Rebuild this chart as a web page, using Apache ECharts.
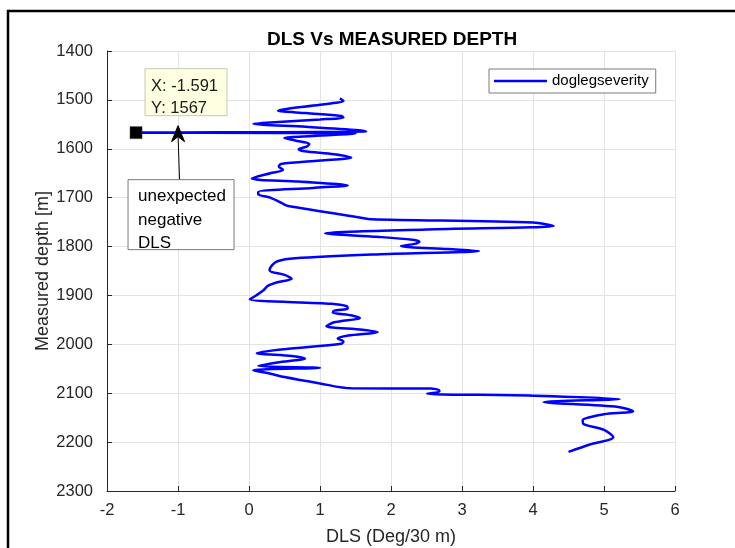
<!DOCTYPE html>
<html>
<head>
<meta charset="utf-8">
<script src="https://cdn.jsdelivr.net/npm/echarts@6/dist/echarts.min.js"></script>
<style>
html,body{margin:0;padding:0;background:#fff;}
#c{width:735px;height:548px;}
</style>
</head>
<body>
<div id="c"></div>
<script>
// Measured depth (m) and dogleg severity (deg/30 m)
const depthVals = [1497,1502,1510,1518,1522,1527,1533,1536,1540,1546,1549,1555,1562,1564.5,1567,1569,1574,1578,1583,1590,1595,1601,1605,1611,1618,1624,1631,1636,1643,1650,1661,1667,1675,1680,1688,1693,1700,1714,1717,1741,1744,1751,1758,1765,1773,1780,1786,1790,1794,1799,1805,1809,1816,1824,1830,1839,1849,1858,1866,1873,1880,1890,1900,1908,1917,1922,1927,1931,1935,1941,1946,1955,1963,1970,1975,1982,1988,1994,1999,2010,2018,2024,2029,2037,2044,2048,2053,2060,2067,2080,2090,2090.5,2094,2097,2101,2105,2112,2118,2128,2137,2143,2149,2155,2163,2175,2190,2205,2220];
const dlsVals   = [1.28,1.33,1.0,0.55,0.41,0.8,1.3,1.33,1.0,0.3,0.06,0.8,1.55,1.65,-1.591,1.5,0.9,0.5,0.65,0.85,0.82,0.7,0.78,1.2,1.44,1.0,0.45,0.42,0.48,0.3,0.04,0.7,1.39,0.9,0.13,0.13,0.3,0.5,0.55,1.58,1.72,4.0,4.29,2.5,1.07,1.8,2.3,2.4,2.35,2.14,2.8,3.24,1.8,0.65,0.4,0.32,0.29,0.5,0.6,0.4,0.27,0.2,0.1,0.01,1.16,1.38,1.39,1.2,1.18,1.45,1.56,1.2,1.09,1.6,1.81,1.4,1.25,1.33,1.3,0.5,0.11,0.6,0.79,0.4,0.13,1.0,0.06,0.3,0.5,1.0,1.44,2.56,2.68,2.68,2.51,4.0,5.22,4.15,5.2,5.41,5.0,4.8,4.7,4.71,5.0,5.13,4.8,4.5];
const xTicks = [-2,-1,0,1,2,3,4,5,6];
const yTicks = [1400,1500,1600,1700,1800,1900,2000,2100,2200,2300];
const tipPoint = [-1.591, 1567];
const seriesName = 'doglegseverity';

const font = 'Liberation Sans, Arial, Helvetica, sans-serif';
const seriesData = depthVals.map((d, i) => [dlsVals[i], d]);

const chart = echarts.init(document.getElementById('c'), null, {renderer: 'canvas'});
const axisCol = '#262626';
chart.setOption({
  animation: false,
  backgroundColor: '#fff',
  title: {
    text: 'DLS Vs MEASURED DEPTH',
    left: 262, top: 25,
    textStyle: {fontFamily: font, fontSize: 19, fontWeight: 'bold', color: '#000'}
  },
  grid: {left: 107, right: 60, top: 51, bottom: 57, containLabel: false, outerBoundsMode: 'none'},
  legend: {
    data: [{name: seriesName, icon: 'rect'}],
    left: 489, top: 69,
    itemWidth: 53, itemHeight: 2.5,
    padding: [3, 7, 3, 5],
    borderColor: '#7a7a7a', borderWidth: 1, backgroundColor: '#fff',
    textStyle: {fontFamily: font, fontSize: 15, color: '#000', lineHeight: 18}
  },
  xAxis: {
    type: 'value', min: xTicks[0], max: xTicks[xTicks.length-1], interval: 1,
    position: 'bottom',
    name: 'DLS (Deg/30 m)', nameLocation: 'middle', nameGap: 37,
    nameTextStyle: {fontFamily: font, fontSize: 18, color: axisCol},
    axisLine: {onZero: false, lineStyle: {color: axisCol, width: 1}},
    axisTick: {inside: true, length: 5, lineStyle: {color: axisCol}},
    axisLabel: {fontFamily: font, fontSize: 16.5, color: axisCol, margin: 11, formatter: v => String(v)},
    splitLine: {show: true, lineStyle: {color: '#e3e3e3', width: 1}}
  },
  yAxis: {
    type: 'value', min: yTicks[0], max: yTicks[yTicks.length-1], interval: 100, inverse: true,
    position: 'left',
    name: 'Measured depth [m]', nameLocation: 'middle', nameGap: 55, nameMoveOverlap: false,
    nameTextStyle: {fontFamily: font, fontSize: 18, color: axisCol},
    axisLine: {onZero: false, lineStyle: {color: axisCol, width: 1}},
    axisTick: {inside: true, length: 5, lineStyle: {color: axisCol}},
    axisLabel: {fontFamily: font, fontSize: 16.5, color: axisCol, margin: 14, formatter: v => String(v)},
    splitLine: {show: true, lineStyle: {color: '#e3e3e3', width: 1}}
  },
  series: [{
    name: seriesName,
    type: 'line',
    data: seriesData,
    showSymbol: false,
    smooth: 0.3,
    lineStyle: {color: '#0000ff', width: 2.5},
    itemStyle: {color: '#0000ff'},
    markPoint: {
      symbol: 'rect', symbolSize: 12, silent: true,
      itemStyle: {color: '#000', borderColor: '#333', borderWidth: 0.5},
      label: {show: false},
      data: [{coord: tipPoint}]
    }
  }]
});

// annotations positioned relative to the data-tip point
const p = chart.convertToPixel({gridIndex: 0}, tipPoint);
const px = p[0], py = p[1];
const ax = px + 42; // arrow x
chart.setOption({
  graphic: [
    // figure frame
    {type: 'line', shape: {x1: 7, y1: 11, x2: 735, y2: 11}, style: {stroke: '#000', lineWidth: 2.5}},
    {type: 'line', shape: {x1: 8, y1: 10, x2: 8, y2: 548}, style: {stroke: '#000', lineWidth: 2.5}},
    // data tip box
    {type: 'rect', shape: {x: px + 9, y: py - 64, width: 82, height: 47},
     style: {fill: '#ffffe1', stroke: '#c8c8b4', lineWidth: 1}, z: 100},
    {type: 'text', x: px + 15, y: py - 46, z: 101,
     style: {text: 'X: -1.591', fontFamily: font, fontSize: 16.5, fill: '#1a1a1a', textVerticalAlign: 'middle'}},
    {type: 'text', x: px + 15, y: py - 24, z: 101,
     style: {text: 'Y: 1567', fontFamily: font, fontSize: 16.5, fill: '#1a1a1a', textVerticalAlign: 'middle'}},
    // arrow
    {type: 'line', shape: {x1: ax + 1.5, y1: py + 47, x2: ax, y2: py + 2}, style: {stroke: '#000', lineWidth: 1}, z: 100},
    {type: 'polygon', shape: {points: [[ax, py - 7], [ax - 6.5, py + 9], [ax, py + 4], [ax + 6.5, py + 9]]},
     style: {fill: '#000', stroke: '#000', lineWidth: 1}, z: 100},
    // text box
    {type: 'rect', shape: {x: px - 8, y: py + 47, width: 106, height: 70},
     style: {fill: '#fff', stroke: '#7a7a7a', lineWidth: 1}, z: 100},
    {type: 'text', x: px + 2, y: py + 64, z: 101,
     style: {text: 'unexpected', fontFamily: font, fontSize: 17, fill: '#000', textVerticalAlign: 'middle'}},
    {type: 'text', x: px + 2, y: py + 88, z: 101,
     style: {text: 'negative', fontFamily: font, fontSize: 17, fill: '#000', textVerticalAlign: 'middle'}},
    {type: 'text', x: px + 2, y: py + 111, z: 101,
     style: {text: 'DLS', fontFamily: font, fontSize: 17, fill: '#000', textVerticalAlign: 'middle'}}
  ]
});
</script>
</body>
</html>
